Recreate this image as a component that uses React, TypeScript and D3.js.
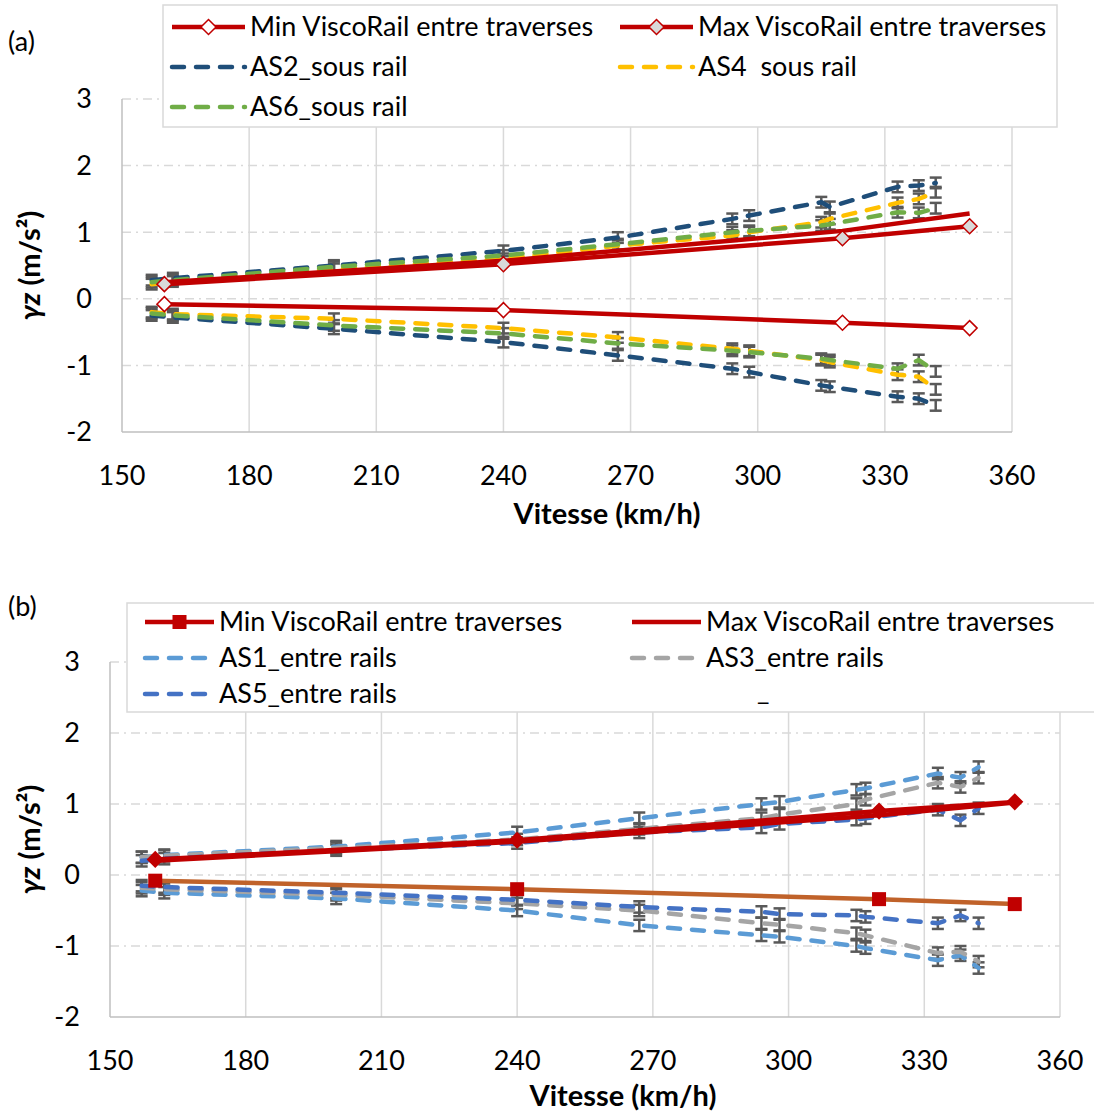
import React from "react";
import * as d3 from "d3";

// ---------- DATA ----------
const xTicks = [150, 180, 210, 240, 270, 300, 330, 360];
const yTicks = [-2, -1, 0, 1, 2, 3];

const viscoSpeeds = [160, 240, 320, 350];
// panel (a)
const minViscoA = [-0.08, -0.17, -0.36, -0.44];
const maxViscoA = [0.22, 0.52, 0.91, 1.09];
const maxViscoA2 = [0.25, 0.57, 1.02, 1.28];

const speedsA = [157, 162, 200, 240, 267, 294, 298, 315, 317, 333, 338, 342];
const as2Up = [0.28, 0.31, 0.5, 0.72, 0.92, 1.2, 1.25, 1.45, 1.38, 1.68, 1.7, 1.74];
const as2Low = [-0.25, -0.28, -0.45, -0.65, -0.85, -1.05, -1.1, -1.3, -1.32, -1.47, -1.5, -1.6];
const as4Up = [0.22, 0.26, 0.45, 0.6, 0.8, 0.95, 1.0, 1.15, 1.2, 1.44, 1.5, 1.6];
const as4Low = [-0.2, -0.23, -0.3, -0.44, -0.58, -0.75, -0.78, -0.92, -0.95, -1.14, -1.17, -1.36];
const as6Up = [0.25, 0.28, 0.48, 0.65, 0.82, 1.0, 1.02, 1.1, 1.12, 1.3, 1.29, 1.36];
const as6Low = [-0.22, -0.25, -0.4, -0.52, -0.67, -0.78, -0.8, -0.9, -0.92, -1.05, -0.92, -1.09];

// panel (b)
const minViscoB = [-0.08, -0.2, -0.34, -0.41];
const maxViscoB = [0.22, 0.49, 0.9, 1.03];
const maxViscoB2 = [0.2, 0.47, 0.84, 1.02];

const speedsB = [157, 162, 200, 240, 267, 294, 298, 315, 317, 333, 338, 342];
const as1Up = [0.25, 0.28, 0.4, 0.6, 0.8, 1.0, 1.03, 1.2, 1.22, 1.43, 1.37, 1.52];
const as1Low = [-0.22, -0.25, -0.33, -0.5, -0.71, -0.85, -0.87, -1.0, -1.03, -1.2, -1.13, -1.31];
const as3Up = [0.25, 0.27, 0.38, 0.5, 0.65, 0.8, 0.85, 1.0, 1.06, 1.3, 1.24, 1.37];
const as3Low = [-0.18, -0.2, -0.28, -0.4, -0.5, -0.68, -0.7, -0.82, -0.85, -1.1, -1.08, -1.22];
const as5Up = [0.2, 0.23, 0.35, 0.45, 0.6, 0.67, 0.72, 0.78, 0.8, 0.92, 0.77, 0.94];
const as5Low = [-0.15, -0.17, -0.25, -0.35, -0.45, -0.52, -0.55, -0.57, -0.59, -0.68, -0.57, -0.68];

const errBar = 0.08;

// ---------- STYLE ----------
const FONT = "Lato, 'Open Sans', sans-serif";
const RED = "#C00000";
const C_AS2 = "#1F4E79";
const C_AS4 = "#FFC000";
const C_AS6 = "#70AD47";
const C_AS1 = "#5B9BD5";
const C_AS3 = "#A5A5A5";
const C_AS5 = "#4472C4";
const C_MINB = "#C0622A";
const TICK_FS = 27;
const LEG_FS = 27;
const TITLE_FS = 29;

type Meas = { name: string; color: string; up: number[]; low: number[] };
type Visco = { values: number[]; color: string; marker: "diamondWhite" | "diamondGray" | "diamondRed" | "square" | "none" };

type PanelProps = {
  top: number;
  x0: number;
  x1: number;
  y0: number;
  y1: number;
  titleX: number;
  titleY: number;
  speeds: number[];
  meas: Meas[];
  visco: Visco[];
  label: string;
};

function Marker({ x, y, kind }: { x: number; y: number; kind: string }) {
  if (kind === "none") return null;
  if (kind === "square") return <rect x={x - 7} y={y - 7} width={14} height={14} fill={RED} />;
  const s = 7.5;
  const fill = kind === "diamondWhite" ? "#FFFFFF" : kind === "diamondGray" ? "#D9D9D9" : RED;
  return <path d={`M${x},${y - s}L${x + s},${y}L${x},${y + s}L${x - s},${y}Z`} fill={fill} stroke={RED} strokeWidth={1.5} />;
}

function Panel(p: PanelProps) {
  const x = d3.scaleLinear().domain([150, 360]).range([p.x0, p.x1]);
  const y = d3.scaleLinear().domain([-2, 3]).range([p.y1, p.y0]);
  const line = d3
    .line<[number, number]>()
    .x((d) => x(d[0]))
    .y((d) => y(d[1]));

  return (
    <g>
      {yTicks.slice(1).map((t) => (
        <line key={"hy" + t} x1={p.x0} x2={p.x1} y1={y(t)} y2={y(t)} stroke="#D9D9D9" strokeWidth={1.5} strokeDasharray="9 5 2 5" />
      ))}
      {xTicks.slice(1).map((t) => (
        <line key={"vx" + t} x1={x(t)} x2={x(t)} y1={p.y0} y2={p.y1} stroke="#D9D9D9" strokeWidth={1.5} />
      ))}
      <line x1={p.x0} x2={p.x0} y1={p.y0} y2={p.y1} stroke="#BFBFBF" strokeWidth={1.5} />
      <line x1={p.x0} x2={p.x1} y1={p.y1} y2={p.y1} stroke="#BFBFBF" strokeWidth={1.5} />
      {yTicks.map((t) => (
        <text key={"yl" + t} x={p.x0 - 30} y={y(t)} dy="0.35em" textAnchor="end" fontSize={TICK_FS} fontFamily={FONT} fill="#000">
          {t}
        </text>
      ))}
      {xTicks.map((t) => (
        <text key={"xl" + t} x={x(t)} y={p.y1 + 44} dy="0.35em" textAnchor="middle" fontSize={TICK_FS} fontFamily={FONT} fill="#000">
          {t}
        </text>
      ))}
      <text x={p.titleX} y={p.titleY} dy="0.35em" textAnchor="middle" fontSize={TITLE_FS} fontWeight="bold" fontFamily={FONT}>
        Vitesse (km/h)
      </text>
      <text
        transform={`translate(30, ${(p.y0 + p.y1) / 2}) rotate(-90)`}
        textAnchor="middle"
        dy="0.35em"
        fontSize={TITLE_FS}
        fontWeight="bold"
        fontFamily={FONT}
      >
        <tspan fontStyle="italic">γz</tspan> (m/s²)
      </text>
      <text x={8} y={p.top + 10} dy="0.35em" fontSize={TICK_FS} fontFamily={FONT}>
        {p.label}
      </text>

      {p.meas.map((m) =>
        [m.up, m.low].map((arr, k) =>
          arr.map((v, i) => {
            const cx = x(p.speeds[i]);
            const ya = y(v + errBar);
            const yb = y(v - errBar);
            return (
              <g key={m.name + k + i} stroke="#595959" strokeWidth={2.5}>
                <line x1={cx} x2={cx} y1={ya} y2={yb} />
                <line x1={cx - 6} x2={cx + 6} y1={ya} y2={ya} />
                <line x1={cx - 6} x2={cx + 6} y1={yb} y2={yb} />
              </g>
            );
          })
        )
      )}
      {p.meas.map((m) =>
        [m.up, m.low].map((arr, k) => (
          <path
            key={m.name + "l" + k}
            d={line(p.speeds.map((s, i) => [s, arr[i]]) as [number, number][]) || ""}
            fill="none"
            stroke={m.color}
            strokeWidth={4.5}
            strokeDasharray="12 12"
            strokeLinecap="round"
          />
        ))
      )}
      {p.visco.map((v, k) => (
        <g key={"v" + k}>
          <path
            d={line(viscoSpeeds.map((s, i) => [s, v.values[i]]) as [number, number][]) || ""}
            fill="none"
            stroke={v.color}
            strokeWidth={4.5}
          />
          {v.values.map((val, i) => (
            <Marker key={i} x={x(viscoSpeeds[i])} y={y(val)} kind={v.marker} />
          ))}
        </g>
      ))}
    </g>
  );
}

type LegendItem = { label: string; color: string; dashed: boolean; marker: string };

function Legend({
  box,
  rows,
  cols,
  items,
  lineLen,
}: {
  box: [number, number, number, number];
  rows: number[];
  cols: number[];
  items: LegendItem[];
  lineLen: number;
}) {
  return (
    <g>
      <rect x={box[0]} y={box[1]} width={box[2] - box[0]} height={box[3] - box[1]} fill="#fff" stroke="#D9D9D9" strokeWidth={1.5} />
      {items.map((it, i) => {
        const r = rows[Math.floor(i / 2)];
        const c = cols[i % 2];
        return (
          <g key={it.label}>
            <line
              x1={c}
              x2={c + lineLen}
              y1={r}
              y2={r}
              stroke={it.color}
              strokeWidth={4.5}
              strokeDasharray={it.dashed ? "12 12" : undefined}
              strokeLinecap={it.dashed ? "round" : "butt"}
            />
            {it.marker !== "none" && <Marker x={c + lineLen / 2} y={r} kind={it.marker} />}
            <text x={c + lineLen + 5} y={r} dy="0.35em" fontSize={LEG_FS} fontFamily={FONT} style={{ whiteSpace: "pre" }}>
              {it.label}
            </text>
          </g>
        );
      })}
    </g>
  );
}

export default function App() {
  const measA: Meas[] = [
    { name: "AS2", color: C_AS2, up: as2Up, low: as2Low },
    { name: "AS4", color: C_AS4, up: as4Up, low: as4Low },
    { name: "AS6", color: C_AS6, up: as6Up, low: as6Low },
  ];
  const measB: Meas[] = [
    { name: "AS1", color: C_AS1, up: as1Up, low: as1Low },
    { name: "AS3", color: C_AS3, up: as3Up, low: as3Low },
    { name: "AS5", color: C_AS5, up: as5Up, low: as5Low },
  ];
  const viscoA: Visco[] = [
    { values: maxViscoA2, color: RED, marker: "none" },
    { values: maxViscoA, color: RED, marker: "diamondGray" },
    { values: minViscoA, color: RED, marker: "diamondWhite" },
  ];
  const viscoB: Visco[] = [
    { values: maxViscoB2, color: RED, marker: "none" },
    { values: maxViscoB, color: RED, marker: "diamondRed" },
    { values: minViscoB, color: C_MINB, marker: "square" },
  ];
  return (
    <svg width={1094} height={1114} style={{ position: "absolute", left: 0, top: 0, background: "#fff" }}>
      <rect width={1094} height={1114} fill="#fff" />
      <Panel top={32} x0={122} x1={1012} y0={99} y1={432} titleX={607} titleY={514} speeds={speedsA} meas={measA} visco={viscoA} label="(a)" />
      <Panel top={597} x0={110} x1={1060} y0={662} y1={1017} titleX={623} titleY={1096} speeds={speedsB} meas={measB} visco={viscoB} label="(b)" />
      <Legend
        box={[163, 5, 1057, 127]}
        rows={[27, 67, 107]}
        cols={[172, 620]}
        lineLen={73}
        items={[
          { label: "Min ViscoRail entre traverses", color: RED, dashed: false, marker: "diamondWhite" },
          { label: "Max ViscoRail entre traverses", color: RED, dashed: false, marker: "diamondGray" },
          { label: "AS2_sous rail", color: C_AS2, dashed: true, marker: "none" },
          { label: "AS4\u00A0 sous rail", color: C_AS4, dashed: true, marker: "none" },
          { label: "AS6_sous rail", color: C_AS6, dashed: true, marker: "none" },
        ]}
      />
      <Legend
        box={[127, 603, 1100, 712]}
        rows={[622, 658, 694]}
        cols={[145, 632]}
        lineLen={69}
        items={[
          { label: "Min ViscoRail entre traverses", color: RED, dashed: false, marker: "square" },
          { label: "Max ViscoRail entre traverses", color: RED, dashed: false, marker: "none" },
          { label: "AS1_entre rails", color: C_AS1, dashed: true, marker: "none" },
          { label: "AS3_entre rails", color: C_AS3, dashed: true, marker: "none" },
          { label: "AS5_entre rails", color: C_AS5, dashed: true, marker: "none" },
        ]}
      />
      <text x={757} y={700} fontSize={LEG_FS} fontFamily={FONT}>
        _
      </text>
    </svg>
  );
}
